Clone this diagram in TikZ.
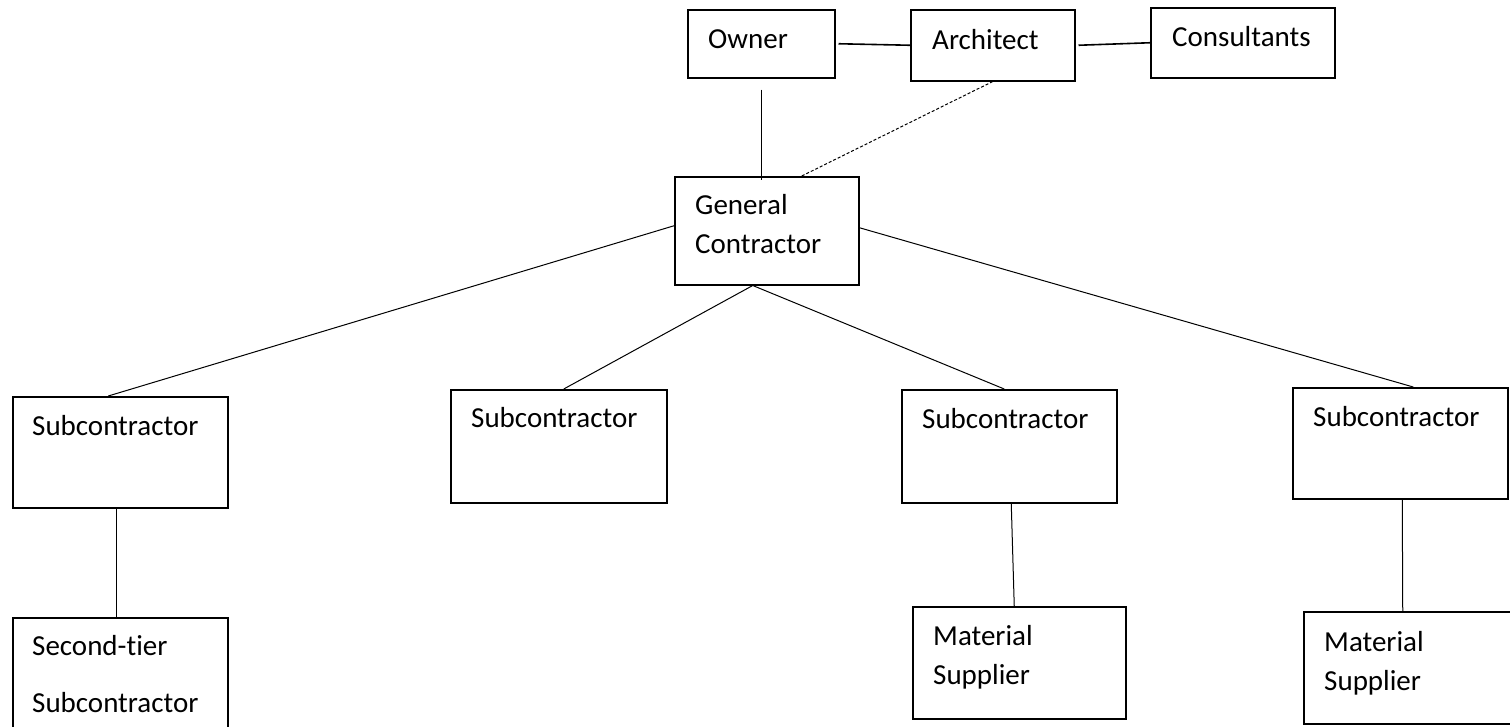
\documentclass[tikz,border=0pt]{standalone}
\usepackage{fontspec}
\setmainfont{Carlito}[Ligatures=NoCommon]
\usetikzlibrary{positioning}

\begin{document}
\begin{tikzpicture}[
    x=1pt, y=-1pt,
    box/.style={draw, line width=1.5pt, anchor=north west, inner sep=0pt},
    lbl/.style={anchor=base west, inner sep=0pt, align=left, font=\fontsize{29}{39}\selectfont},
    link/.style={line width=1pt}
]
\useasboundingbox (0,0) rectangle (1510,726);

% top row
\node[box, minimum width=147pt, minimum height=68pt] (owner) at (687,9) {};
\node[box, minimum width=164pt, minimum height=71pt] (arch) at (910,9) {};
\node[box, minimum width=184pt, minimum height=70pt] (cons) at (1150,7) {};
\node[box, minimum width=184pt, minimum height=108pt] (gc) at (674,176) {};

% subcontractors
\node[box, minimum width=215pt, minimum height=111pt] (sub1) at (12,396) {};
\node[box, minimum width=216pt, minimum height=113pt] (sub2) at (450,389) {};
\node[box, minimum width=215pt, minimum height=113pt] (sub3) at (901,389) {};
\node[box, minimum width=215pt, minimum height=111pt] (sub4) at (1292,387) {};

% bottom row
\node[box, minimum width=215pt, minimum height=115pt] (tier2) at (12,617) {};
\node[box, minimum width=213pt, minimum height=112pt] (supp1) at (912,606) {};
\node[box, minimum width=212pt, minimum height=112pt] (supp2) at (1303,611) {};

% texts (base = last line)
\node[lbl] (ownert) at ([shift={(21pt,-39pt)}]owner.north west) {Owner};
\node[lbl] (archt) at ([shift={(22pt,-40pt)}]arch.north west) {Architect};
\node[lbl] (const) at ([shift={(22pt,-39pt)}]cons.north west) {Consultants};
\node[lbl] (gct) at ([shift={(21pt,-77pt)}]gc.north west) {General\\Contractor};
\node[lbl] (sub1t) at ([shift={(20pt,-39pt)}]sub1.north west) {Subcontractor};
\node[lbl] (sub2t) at ([shift={(21pt,-38pt)}]sub2.north west) {Subcontractor};
\node[lbl] (sub3t) at ([shift={(21pt,-39pt)}]sub3.north west) {Subcontractor};
\node[lbl] (sub4t) at ([shift={(21pt,-39pt)}]sub4.north west) {Subcontractor};
\node[lbl, font=\fontsize{29}{57}\selectfont] (tier2t) at ([shift={(20pt,-95pt)}]tier2.north west) {Second-tier\\Subcontractor};
\node[lbl] (supp1t) at ([shift={(21pt,-78pt)}]supp1.north west) {Material\\Supplier};
\node[lbl] (supp2t) at ([shift={(21pt,-79pt)}]supp2.north west) {Material\\Supplier};

% connectors
\draw[line width=1.6pt] ([xshift=3pt]owner.east) -- (arch.west);
\draw[line width=1.6pt] ([xshift=3pt]arch.east) -- (cons.west);
\draw[link] ([yshift=-11pt]owner.south) -- ([yshift=-4pt]owner.south |- gc.north);
\draw[link, dash pattern=on 3pt off 2pt] (arch.south) -- ([xshift=35pt]gc.north);
\draw[link] ([yshift=5pt]gc.west) -- ([xshift=-12pt]sub1.north);
\draw[link] ([xshift=-14pt]gc.south) -- ([xshift=5pt]sub2.north);
\draw[link] ([xshift=-14pt]gc.south) -- ([xshift=-5pt]sub3.north);
\draw[link] ([yshift=3pt]gc.east) -- ([xshift=13pt]sub4.north);
\draw[link] ([xshift=-4pt]sub1.south) -- ([xshift=-4pt]tier2.north);
\draw[link] ([xshift=2pt]sub3.south) -- ([xshift=-5pt]supp1.north);
\draw[link] ([xshift=2pt]sub4.south) -- ([xshift=-7pt]supp2.north);
\end{tikzpicture}
\end{document}
